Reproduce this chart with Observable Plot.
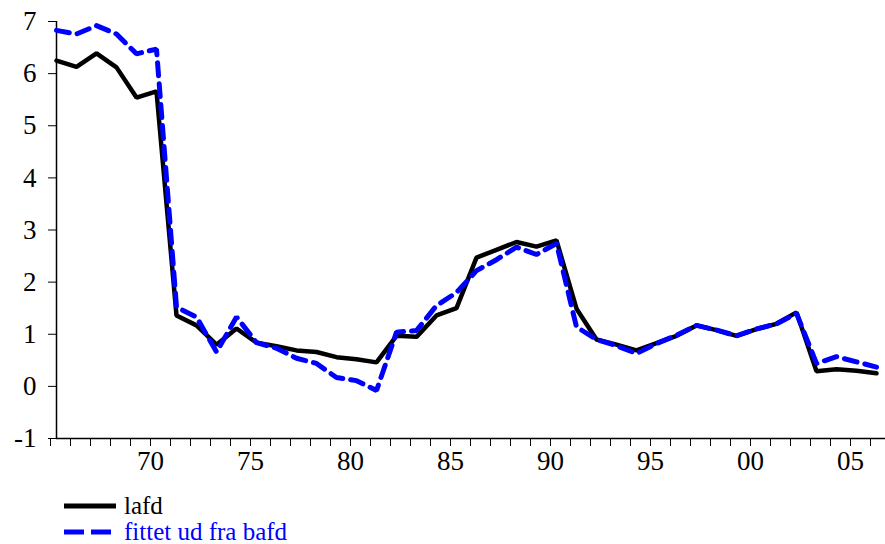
<!DOCTYPE html>
<html>
<head>
<meta charset="utf-8">
<script src="https://cdn.jsdelivr.net/npm/d3@7"></script>
<script src="https://cdn.jsdelivr.net/npm/@observablehq/plot@0.6"></script>
<style>
  html, body { margin: 0; padding: 0; background: #fff; }
  #chart { width: 885px; }
  .legend { font-family: "Liberation Serif", "Times New Roman", Tinos, "DejaVu Serif", serif; font-size: 25px; position: relative; height: 69px; }
  .row { position: absolute; left: 64px; display: flex; align-items: center; height: 28px; }
  .row span { margin-left: 8px; }
  svg text { font-family: "Liberation Serif", "Times New Roman", Tinos, "DejaVu Serif", serif; }
</style>
</head>
<body>
<div id="chart"></div>
<script>
const years = [1965,1966,1967,1968,1969,1970,1971,1972,1973,1974,1975,1976,1977,1978,1979,1980,
  1981,1982,1983,1984,1985,1986,1987,1988,1989,1990,1991,1992,1993,1994,1995,1996,1997,1998,1999,2000,
  2001,2002,2003,2004,2005,2006];
const lafd = [6.25,6.13,6.39,6.12,5.54,5.66,
  1.36,1.17,0.80,1.11,0.84,0.77,0.69,0.66,0.56,0.52,
  0.46,0.97,0.95,1.36,1.50,2.47,2.62,2.77,2.68,2.80,
  1.49,0.90,0.80,0.69,0.83,0.97,1.17,1.08,0.97,1.10,
  1.20,1.42,0.29,0.33,0.30,0.25];
const fitted = [6.83,6.76,6.92,6.76,6.38,6.47,
  1.52,1.33,0.66,1.33,0.84,0.73,0.54,0.44,0.17,0.11,
  -0.08,1.04,1.07,1.55,1.80,2.22,2.43,2.67,2.53,2.74,
  1.14,0.90,0.78,0.63,0.82,0.98,1.17,1.08,0.97,1.10,
  1.20,1.40,0.44,0.57,0.47,0.37];
const yTicks = [-1,0,1,2,3,4,5,6,7];
const xLabels = {1970: "70", 1975: "75", 1980: "80", 1985: "85", 1990: "90", 1995: "95", 2000: "00", 2005: "05"};
const seriesNames = ["lafd", "fittet ud fra bafd"];

const dataA = years.map((y,i) => ({year: y, value: lafd[i]}));
const dataB = years.map((y,i) => ({year: y, value: fitted[i]}));

const chart = Plot.plot({
  width: 885,
  height: 475,
  marginLeft: 56,
  marginRight: 0,
  marginTop: 21,
  marginBottom: 37,
  style: {fontFamily: "'Liberation Serif', 'Times New Roman', Tinos, 'DejaVu Serif', serif", background: "#fff", color: "#000"},
  x: {domain: [1965, 2006.45], label: null},
  y: {domain: [-1, 7], label: null},
  marks: [
    Plot.axisY({ticks: yTicks, tickSize: 8, tickPadding: 12, fontSize: 27, tickFormat: d => String(d), stroke: "#000", label: null}),
    Plot.axisX({ticks: years, tickSize: 8, tickPadding: 4, fontSize: 27, dx: -6,
      tickFormat: d => xLabels[d] ?? "", stroke: "#000", label: null}),
    Plot.ruleX([1965], {y1: -1, y2: 7, stroke: "#000", strokeWidth: 1.5}),
    Plot.ruleY([-1], {stroke: "#000", strokeWidth: 1.5}),
    Plot.line(dataA, {x: "year", y: "value", stroke: "#000", strokeWidth: 4.5, strokeLinejoin: "miter"}),
    Plot.line(dataB, {x: "year", y: "value", stroke: "#0000ff", strokeWidth: 5, strokeDasharray: "13,8", strokeLinejoin: "miter"})
  ]
});
document.getElementById("chart").appendChild(chart);

const legend = document.createElement("div");
legend.className = "legend";
legend.innerHTML = `
  <div class="row" style="top:17px"><svg width="52" height="10"><line x1="0" y1="5" x2="52" y2="5" stroke="#000" stroke-width="5"/></svg><span style="color:#000">${seriesNames[0]}</span></div>
  <div class="row" style="top:43px"><svg width="52" height="10"><line x1="0" y1="5" x2="48" y2="5" stroke="#0000ff" stroke-width="5" stroke-dasharray="20,7"/></svg><span style="color:#0000ff">${seriesNames[1]}</span></div>`;
document.getElementById("chart").appendChild(legend);
</script>
</body>
</html>
